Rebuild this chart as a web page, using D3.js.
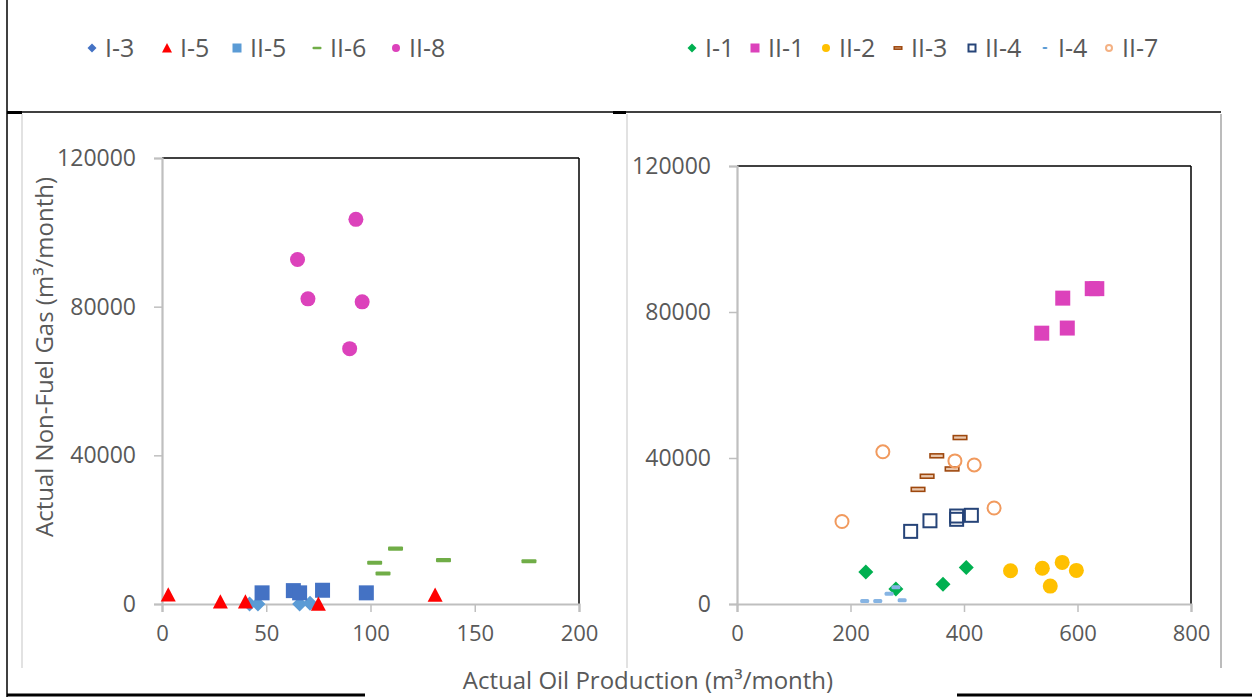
<!DOCTYPE html>
<html>
<head>
<meta charset="utf-8">
<script src="https://cdn.jsdelivr.net/npm/d3@7"></script>
<style>
  html, body { margin: 0; padding: 0; background: #fff; }
  svg { display: block; }
  text { font-family: "Open Sans", "Noto Sans", sans-serif; fill: #595959; }
</style>
</head>
<body>
<svg id="chart" width="1252" height="700"></svg>
<script>
// ---------------- DATA ----------------
const leftNames  = ["I-3", "I-5", "II-5", "II-6", "II-8"];
const rightNames = ["I-1", "II-1", "II-2", "II-3", "II-4", "I-4", "II-7"];

// left panel (oil m3/month, non-fuel gas m3/month)
const I3_oil  = [42, 46, 66, 71];
const I3_gas  = [0, 0, 0, 200];
const I5_oil  = [3, 28, 40, 75, 131];
const I5_gas  = [2500, 600, 600, 0, 2400];
const II5_oil = [48, 63, 66, 77, 98];
const II5_gas = [3000, 3600, 3000, 3700, 3000];
const II6_oil = [102, 112, 106, 135, 176];
const II6_gas = [11100, 14900, 8200, 11800, 11500];
const II8_oil = [93, 65, 70, 96, 90];
const II8_gas = [103500, 92700, 82100, 81300, 68700];

// right panel
const I1_oil  = [227, 280, 363, 404];
const I1_gas  = [8800, 4100, 5400, 10000];
const II1_oil = [537, 574, 582, 626, 634];
const II1_gas = [74200, 83800, 75600, 86400, 86400];
const II2_oil = [482, 538, 552, 573, 598];
const II2_gas = [9100, 9800, 4900, 11400, 9200];
const II3_oil = [319, 335, 352, 379, 393];
const II3_gas = [31400, 35000, 40600, 37000, 45600];
const II4_oil = [306, 340, 387, 387, 413];
const II4_gas = [19900, 22800, 23200, 24100, 24300];
const I4_oil  = [225, 248, 268, 280, 291];
const I4_gas  = [800, 800, 2800, 4600, 1000];
const II7_oil = [185, 257, 384, 418, 453];
const II7_gas = [22600, 41700, 39200, 38100, 26300];

const leftXTicks  = [0, 50, 100, 150, 200];
const rightXTicks = [0, 200, 400, 600, 800];
const yTicks      = [0, 40000, 80000, 120000];

const yTitle = "Actual Non-Fuel Gas (m³/month)";
const xTitle = "Actual Oil Production (m³/month)";

// ---------------- STYLE ----------------
const styles = {
  "I-3":  { shape: "diamond",  color: "#5b9bd5", legend: "#4472c4" },
  "I-5":  { shape: "triangle", color: "#ff0000", legend: "#ff0000" },
  "II-5": { shape: "square",   color: "#4472c4", legend: "#5b9bd5" },
  "II-6": { shape: "dash",     color: "#70ad47", legend: "#70ad47" },
  "II-8": { shape: "circle",   color: "#dc42bb", legend: "#dc42bb" },
  "I-1":  { shape: "diamond",  color: "#00b050", legend: "#00b050" },
  "II-1": { shape: "square",   color: "#dc42bb", legend: "#dc42bb" },
  "II-2": { shape: "circle",   color: "#ffc000", legend: "#ffc000" },
  "II-3": { shape: "opendash", color: "#9e480e", legend: "#9e480e" },
  "II-4": { shape: "opensquare", color: "#264478", legend: "#264478" },
  "I-4":  { shape: "smalldash", color: "#86b4e3", legend: "#5b9bd5" },
  "II-7": { shape: "opencircle", color: "#f19a5e", legend: "#f4b183" }
};

const seriesData = {
  "I-3": [I3_oil, I3_gas], "I-5": [I5_oil, I5_gas], "II-5": [II5_oil, II5_gas],
  "II-6": [II6_oil, II6_gas], "II-8": [II8_oil, II8_gas],
  "I-1": [I1_oil, I1_gas], "II-1": [II1_oil, II1_gas], "II-2": [II2_oil, II2_gas],
  "II-3": [II3_oil, II3_gas], "II-4": [II4_oil, II4_gas], "I-4": [I4_oil, I4_gas],
  "II-7": [II7_oil, II7_gas]
};

const svg = d3.select("#chart");

// ---------------- FRAME ----------------
svg.append("line").attr("x1", 7).attr("x2", 7).attr("y1", 0).attr("y2", 697)
  .attr("stroke", "#000").attr("stroke-width", 1.5);
svg.append("line").attr("x1", 7).attr("x2", 1221).attr("y1", 112).attr("y2", 112)
  .attr("stroke", "#000").attr("stroke-width", 1.5);
svg.append("rect").attr("x", 7).attr("y", 111).attr("width", 15).attr("height", 3).attr("fill", "#000");
svg.append("rect").attr("x", 613).attr("y", 111).attr("width", 13).attr("height", 3).attr("fill", "#000");
[[22, "#d9d9d9"], [627, "#d9d9d9"], [1221, "#a6a6a6"]].forEach(([x, c]) => {
  svg.append("line").attr("x1", x).attr("x2", x).attr("y1", 114).attr("y2", 668)
    .attr("stroke", c).attr("stroke-width", 1.5);
});
svg.append("line").attr("x1", 7).attr("x2", 365).attr("y1", 695).attr("y2", 695)
  .attr("stroke", "#000").attr("stroke-width", 3);
svg.append("line").attr("x1", 957).attr("x2", 1252).attr("y1", 695).attr("y2", 695)
  .attr("stroke", "#000").attr("stroke-width", 3);

// ---------------- MARKERS ----------------
function drawMarker(g, shape, color, s) {
  const h = s / 2;
  if (shape === "circle") {
    g.append("circle").attr("r", h).attr("fill", color);
  } else if (shape === "square") {
    g.append("rect").attr("x", -h).attr("y", -h).attr("width", s).attr("height", s)
      .attr("fill", color);
  } else if (shape === "diamond") {
    const p = d3.path();
    p.moveTo(0, -h); p.lineTo(h, 0); p.lineTo(0, h); p.lineTo(-h, 0); p.closePath();
    g.append("path").attr("d", p.toString()).attr("fill", color);
  } else if (shape === "triangle") {
    const p = d3.path();
    p.moveTo(0, -h); p.lineTo(h, h * 0.9); p.lineTo(-h, h * 0.9); p.closePath();
    g.append("path").attr("d", p.toString()).attr("fill", color);
  } else if (shape === "dash") {
    g.append("rect").attr("x", -h).attr("y", -s * 0.14).attr("width", s).attr("height", s * 0.28)
      .attr("rx", 1).attr("fill", color);
  } else if (shape === "opendash") {
    g.append("rect").attr("x", -h + 0.75).attr("y", -s * 0.13).attr("width", s - 1.5).attr("height", s * 0.26)
      .attr("fill", "#e9c7ae").attr("stroke", color).attr("stroke-width", 1.6);
  } else if (shape === "smalldash") {
    g.append("rect").attr("x", -h).attr("y", -s * 0.22).attr("width", s).attr("height", s * 0.44)
      .attr("rx", 1.5).attr("fill", color);
  } else if (shape === "opensquare") {
    g.append("rect").attr("x", -h + 1).attr("y", -h + 1).attr("width", s - 2).attr("height", s - 2)
      .attr("fill", "none").attr("stroke", color).attr("stroke-width", 2);
  } else if (shape === "opencircle") {
    g.append("circle").attr("r", h - 1).attr("fill", "none").attr("stroke", color).attr("stroke-width", 2);
  }
}

const markerSize = {
  circle: 15, square: 15, diamond: 15, triangle: 15, dash: 15,
  opendash: 15, smalldash: 9, opensquare: 15, opencircle: 15
};

// ---------------- PANELS ----------------
function panel(cfg) {
  const x = d3.scaleLinear().domain(cfg.xDomain).range([cfg.left, cfg.right]);
  const y = d3.scaleLinear().domain([0, 120000]).range([cfg.bottom, cfg.top]);
  const g = svg.append("g");

  g.append("line").attr("x1", cfg.left).attr("x2", cfg.right).attr("y1", cfg.top).attr("y2", cfg.top)
    .attr("stroke", "#000").attr("stroke-width", 1.5);
  g.append("line").attr("x1", cfg.right).attr("x2", cfg.right).attr("y1", cfg.top).attr("y2", cfg.bottom)
    .attr("stroke", "#000").attr("stroke-width", 1.5);

  const yAxis = d3.axisLeft(y).tickValues(yTicks).tickSize(8).tickPadding(18)
    .tickFormat(d3.format("d"));
  const ya = g.append("g").attr("transform", `translate(${cfg.left},0)`).call(yAxis);
  ya.select(".domain").attr("stroke", "#bfbfbf").attr("stroke-width", 2.2);
  ya.selectAll(".tick line").attr("stroke", "#bfbfbf").attr("stroke-width", 1.5);
  ya.selectAll(".tick text").attr("font-size", 23).attr("fill", "#595959")
    .attr("font-family", "'Open Sans', sans-serif");

  const xAxis = d3.axisBottom(x).tickValues(cfg.xTicks).tickSize(8).tickPadding(13)
    .tickFormat(d3.format("d"));
  const xa = g.append("g").attr("transform", `translate(0,${cfg.bottom})`).call(xAxis);
  xa.select(".domain").attr("stroke", "#bfbfbf").attr("stroke-width", 2.2);
  xa.selectAll(".tick line").attr("stroke", "#bfbfbf").attr("stroke-width", 1.5);
  xa.selectAll(".tick text").attr("font-size", 22).attr("fill", "#595959")
    .attr("font-family", "'Open Sans', sans-serif");

  cfg.series.forEach(name => {
    const [xs, ys] = seriesData[name];
    const st = styles[name];
    const pts = xs.map((v, i) => ({ x: v, y: ys[i] }));
    const sg = g.append("g").attr("class", "series");
    sg.selectAll("g.pt").data(pts).enter().append("g").attr("class", "pt")
      .attr("transform", d => `translate(${x(d.x)},${y(d.y)})`)
      .each(function () { drawMarker(d3.select(this), st.shape, st.color, markerSize[st.shape]); });
  });
}

panel({ xDomain: [0, 200], xTicks: leftXTicks, left: 162, right: 579, top: 158, bottom: 604,
        series: ["II-6", "II-8", "I-3", "II-5", "I-5"] });
panel({ xDomain: [0, 800], xTicks: rightXTicks, left: 737, right: 1191, top: 166, bottom: 604,
        series: ["II-1", "II-2", "II-3", "II-4", "II-7", "I-1", "I-4"] });

// ---------------- TITLES ----------------
svg.append("text").attr("transform", "translate(47,357) rotate(-90)")
  .attr("text-anchor", "middle").attr("dominant-baseline", "middle")
  .attr("font-size", 24).text(yTitle);
svg.append("text").attr("x", 648).attr("y", 683)
  .attr("text-anchor", "middle").attr("dominant-baseline", "middle")
  .attr("font-size", 24).text(xTitle);

// ---------------- LEGENDS ----------------
const leftLegendX  = [92, 167, 237, 317, 396];
const rightLegendX = [692, 755, 826, 898, 972, 1045, 1109];
const legendMarker = {
  circle: 8, square: 9, diamond: 9, triangle: 10, dash: 9,
  opendash: 9, smalldash: 5, opensquare: 9, opencircle: 8
};
function legend(names, xs) {
  names.forEach((name, i) => {
    const st = styles[name];
    const g = svg.append("g").attr("transform", `translate(${xs[i]},48)`);
    drawMarker(g, st.shape, st.legend, legendMarker[st.shape]);
    g.append("text").attr("x", 13).attr("y", 2).attr("dominant-baseline", "middle")
      .attr("font-size", 25).text(name);
  });
}
legend(leftNames, leftLegendX);
legend(rightNames, rightLegendX);
</script>
</body>
</html>
